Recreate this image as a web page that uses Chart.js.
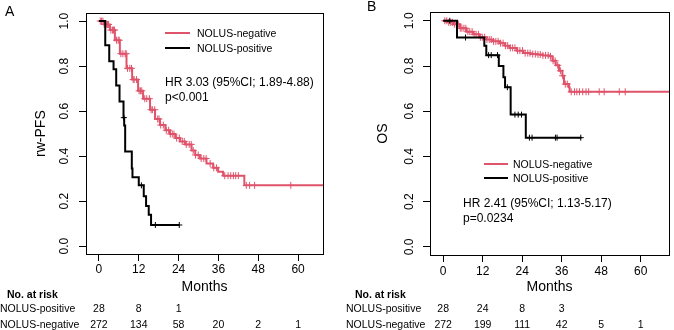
<!DOCTYPE html>
<html><head><meta charset="utf-8">
<script src="https://cdn.jsdelivr.net/npm/chart.js@4"></script>
<style>
body{margin:0;width:674px;height:330px;position:relative;background:#fff;font-family:"Liberation Sans",Arial,sans-serif;overflow:hidden}
canvas{position:absolute;top:0}
.t{position:absolute;white-space:nowrap;color:#000;transform:translateY(-50%);line-height:1}
.c{transform:translate(-50%,-50%)}
.ln{position:absolute;height:2px}
</style></head><body>
<canvas id="cA" width="337" height="300" style="left:0"></canvas>
<canvas id="cB" width="337" height="300" style="left:337px"></canvas>
<div id="ann"></div>
<script>
// ---------- shared ----------
const xTicks = [0, 12, 24, 36, 48, 60];
const yTicks = [0, 0.2, 0.4, 0.6, 0.8, 1.0];
const seriesNames = ["NOLUS-negative", "NOLUS-positive"];
const riskTimes = [0, 12, 24, 36, 48, 60];

// ---------- Panel A: rw-PFS ----------
const aNegTime = [0, 1.5, 3.3, 4.8, 6.3, 8.3, 10.0, 11.8, 13.3, 15.4, 16.9, 18.4, 20.0, 21.4, 23.0, 24.4, 26.0, 27.9, 29.0, 30.4, 32.4, 34.4, 35.9, 37.4, 43.8];
const aNegSurv = [1.0, 0.985, 0.96, 0.915, 0.855, 0.79, 0.74, 0.69, 0.655, 0.606, 0.565, 0.538, 0.515, 0.498, 0.48, 0.465, 0.452, 0.425, 0.405, 0.389, 0.367, 0.348, 0.331, 0.313, 0.27];
const aNegEnd = 67.5;
const aNegCens = [0.4, 0.8, 1.2, 1.6, 2.2, 2.6, 2.9, 3.6, 4.1, 4.4, 4.7, 5.3, 5.8, 6.1, 6.6, 7.2, 7.9, 8.2, 8.6, 9.3, 9.8, 10.3, 10.6, 11.3, 12.1, 12.5, 12.9, 13.8, 14.4, 15.2, 15.7, 16.1, 16.8, 17.7, 18.1, 18.6, 19.4, 20.3, 21.0, 21.5, 22.1, 22.6, 23.4, 24.2, 25.1, 25.7, 26.3, 27.2, 27.8, 28.4, 29.1, 29.9, 30.8, 31.6, 32.3, 33.5, 34.6, 35.4, 37.9, 38.9, 39.7, 40.5, 41.2, 42.0, 44.4, 45.4, 46.9, 57.8];
const aPosTime = [0, 1.9, 3.1, 4.4, 5.2, 6.2, 7.4, 7.6, 7.9, 9.9, 10.1, 12.0, 13.5, 14.2, 15.0, 15.7];
const aPosSurv = [1.0, 0.893, 0.821, 0.786, 0.714, 0.643, 0.571, 0.536, 0.421, 0.345, 0.306, 0.27, 0.222, 0.178, 0.139, 0.094];
const aPosEnd = 24.2;
const aPosCens = [7.5, 12.8, 17.0, 24.2];
const aRiskPos = [28, 8, 1];
const aRiskNeg = [272, 134, 58, 20, 2, 1];

// ---------- Panel B: OS ----------
const bNegTime = [0, 1.5, 3.0, 5.1, 7.0, 9.1, 11.0, 13.2, 15.0, 17.2, 18.8, 20.2, 22.3, 24.3, 26.5, 28.3, 30.3, 32.3, 33.2, 34.2, 35.2, 36.2, 36.7, 38.2, 38.4];
const bNegSurv = [1.0, 0.993, 0.985, 0.967, 0.952, 0.94, 0.927, 0.917, 0.909, 0.901, 0.89, 0.88, 0.868, 0.857, 0.853, 0.851, 0.847, 0.843, 0.823, 0.803, 0.779, 0.757, 0.72, 0.706, 0.686];
const bNegEnd = 68.6;
const bNegCens = [0.5, 1.1, 1.7, 2.3, 2.8, 3.4, 4.0, 4.6, 5.2, 5.7, 6.3, 6.9, 7.5, 8.1, 8.8, 9.4, 10.0, 10.7, 11.3, 11.9, 12.6, 13.3, 14.0, 14.6, 15.3, 16.0, 16.7, 17.4, 18.2, 18.9, 19.6, 20.4, 21.1, 21.8, 22.6, 23.3, 24.1, 24.9, 25.7, 26.4, 27.2, 28.0, 28.8, 29.5, 30.3, 31.1, 31.9, 32.6, 33.4, 34.0, 34.8, 35.6, 36.3, 37.1, 37.7, 38.9, 39.9, 40.6, 41.4, 42.4, 43.4, 44.2, 47.4, 48.9, 53.5, 55.3];
const bPosTime = [0, 4.2, 12.5, 13.1, 16.9, 18.3, 18.8, 20.5, 25.1];
const bPosSurv = [1.0, 0.926, 0.89, 0.848, 0.80, 0.75, 0.706, 0.585, 0.483];
const bPosEnd = 42.0;
const bPosCens = [2.0, 6.8, 13.8, 14.6, 16.5, 19.5, 21.8, 22.8, 23.8, 26.2, 27.0, 34.1, 34.6, 41.8];
const bRiskPos = [28, 24, 8, 3];
const bRiskNeg = [272, 199, 111, 42, 5, 1];

const RED = "#DF536B", BLACK = "#000000";
const FONT = "'Liberation Sans', Arial, sans-serif";

function survAt(times, surv, t) {
  let v = surv[0];
  for (let i = 0; i < times.length; i++) if (times[i] <= t) v = surv[i];
  return v;
}
function curve(times, surv, end) {
  const d = times.map((t, i) => ({x: t, y: surv[i]}));
  d.push({x: end, y: surv[surv.length - 1]});
  return d;
}
function cens(times, surv, c) {
  return c.map(t => ({x: t, y: survAt(times, surv, t)}));
}

const boxPlugin = {
  id: 'box',
  afterDraw(chart) {
    const {ctx, chartArea: a} = chart;
    ctx.save();
    ctx.strokeStyle = '#000';
    ctx.lineWidth = 1;
    ctx.strokeRect(Math.round(a.left) + 0.5, Math.round(a.top) + 0.5, Math.round(a.right - a.left), Math.round(a.bottom - a.top));
    ctx.restore();
  }
};

function makeChart(id, p) {
  const ds = [
    {type: 'scatter', data: cens(p.posTime, p.posSurv, p.posCens), pointStyle: 'cross', pointRadius: 3, borderColor: BLACK, borderWidth: 1, showLine: false},
    {type: 'line', label: seriesNames[1], data: curve(p.posTime, p.posSurv, p.posEnd), stepped: true, borderColor: BLACK, borderWidth: 2, pointRadius: 0, fill: false},
    {type: 'scatter', data: cens(p.negTime, p.negSurv, p.negCens), pointStyle: 'cross', pointRadius: 3.5, borderColor: RED, borderWidth: 1, showLine: false},
    {type: 'line', label: seriesNames[0], data: curve(p.negTime, p.negSurv, p.negEnd), stepped: true, borderColor: RED, borderWidth: 2, pointRadius: 0, fill: false}
  ];
  return new Chart(document.getElementById(id), {
    type: 'line',
    data: {datasets: ds},
    plugins: [boxPlugin],
    options: {
      responsive: false, animation: false, events: [],
      layout: {padding: p.pad},
      plugins: {legend: {display: false}, tooltip: {enabled: false}},
      scales: {
        x: {
          type: 'linear', min: p.xmin, max: p.xmax,
          afterBuildTicks: s => { s.ticks = xTicks.map(v => ({value: v})); },
          afterFit: s => { s.height = p.xh; },
          border: {display: false},
          grid: {drawOnChartArea: false, drawTicks: true, tickLength: 7, color: '#000', lineWidth: 1},
          ticks: {color: '#000', font: {family: FONT, size: 12}, padding: p.xpad, maxRotation: 0, autoSkip: false, callback: v => String(v)},
          title: {display: true, text: 'Months', color: '#000', font: {family: FONT, size: 14}, padding: {top: 0, bottom: 4}}
        },
        y: {
          type: 'linear', min: p.ymin, max: p.ymax,
          afterBuildTicks: s => { s.ticks = yTicks.map(v => ({value: v})); },
          afterFit: s => { s.width = p.yw; },
          border: {display: false},
          grid: {drawOnChartArea: false, drawTicks: true, tickLength: 7, color: '#000', lineWidth: 1},
          ticks: {color: '#000', font: {family: FONT, size: 12}, padding: p.ypad, minRotation: 90, maxRotation: 90, crossAlign: 'center', autoSkip: false, callback: v => v.toFixed(1)},
          title: {display: true, text: p.ytitle, color: '#000', font: {family: FONT, size: 14}, padding: {top: p.ytp, bottom: 0}}
        }
      }
    }
  });
}

const chA = makeChart('cA', {
  negTime: aNegTime, negSurv: aNegSurv, negEnd: aNegEnd, negCens: aNegCens,
  posTime: aPosTime, posSurv: aPosSurv, posEnd: aPosEnd, posCens: aPosCens,
  pad: {top: 8, right: 14, left: 0, bottom: 0}, xmin: -3.9, xmax: 67.5, ymin: -0.035, ymax: 1.035,
  xh: 46, yw: 86, xpad: 1, ypad: 6, ytitle: 'rw-PFS', ytp: 33
});
const chB = makeChart('cB', {
  negTime: bNegTime, negSurv: bNegSurv, negEnd: bNegEnd, negCens: bNegCens,
  posTime: bPosTime, posSurv: bPosSurv, posEnd: bPosEnd, posCens: bPosCens,
  pad: {top: 9, right: 4, left: 0, bottom: 0}, xmin: -4.0, xmax: 68.6, ymin: -0.036, ymax: 1.038,
  xh: 45, yw: 93, xpad: 2, ypad: 5, ytitle: 'OS', ytp: 38
});

// ---------- annotations (text as HTML) ----------
const ann = document.getElementById('ann');
function txt(s, x, y, size, extra) {
  const d = document.createElement('div');
  d.className = 't' + (extra && extra.center ? ' c' : '');
  d.style.left = x + 'px'; d.style.top = y + 'px';
  d.style.fontSize = size + 'px';
  if (extra && extra.bold) d.style.fontWeight = 'bold';
  d.textContent = s;
  ann.appendChild(d);
}
function line(x1, x2, y, color) {
  const d = document.createElement('div');
  d.className = 'ln';
  d.style.left = x1 + 'px'; d.style.width = (x2 - x1) + 'px';
  d.style.top = (y - 1) + 'px'; d.style.background = color;
  ann.appendChild(d);
}
// panel letters
txt('A', 5, 11, 14);
txt('B', 367, 6, 14);
// legend + HR, panel A
line(165, 190, 33, RED); txt(seriesNames[0], 197, 33, 10.5);
line(165, 190, 48, BLACK); txt(seriesNames[1], 197, 48, 10.5);
txt('HR 3.03 (95%CI; 1.89-4.88)', 165, 82, 12);
txt('p<0.001', 165, 97, 12);
// legend + HR, panel B
line(484, 508, 164, RED); txt(seriesNames[0], 513, 164, 10.5);
line(484, 508, 178, BLACK); txt(seriesNames[1], 513, 178, 10.5);
txt('HR 2.41 (95%CI; 1.13-5.17)', 463, 203, 12);
txt('p=0.0234', 463, 218, 12);
// at-risk tables
function riskTable(chart, offX, labX, noX, pos, neg) {
  txt('No. at risk', noX, 294, 10.5, {bold: true});
  txt('NOLUS-positive', labX, 308, 10.5);
  txt('NOLUS-negative', labX, 324, 10.5);
  const sx = chart.scales.x;
  pos.forEach((n, i) => txt(String(n), offX + sx.getPixelForValue(riskTimes[i]), 308, 10.5, {center: true}));
  neg.forEach((n, i) => txt(String(n), offX + sx.getPixelForValue(riskTimes[i]), 324, 10.5, {center: true}));
}
riskTable(chA, 0, 0, 7, aRiskPos, aRiskNeg);
riskTable(chB, 337, 346, 355, bRiskPos, bRiskNeg);
</script>
</body></html>
